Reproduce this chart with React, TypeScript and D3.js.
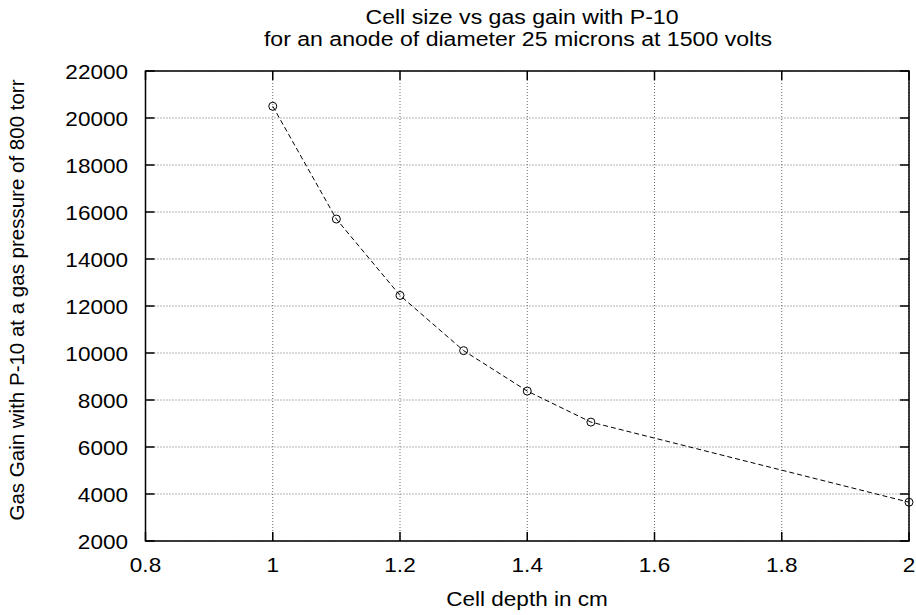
import React from "react";
import * as d3 from "d3";

const cellDepth = [1.0, 1.1, 1.2, 1.3, 1.4, 1.5, 2.0];
const gasGain = [20500, 15700, 12450, 10100, 8380, 7060, 3650];
const xTicks = [0.8, 1, 1.2, 1.4, 1.6, 1.8, 2];
const yTicks = [2000, 4000, 6000, 8000, 10000, 12000, 14000, 16000, 18000, 20000, 22000];
const titleLines = [
  "Cell size vs gas gain with P-10",
  "for an anode of diameter 25 microns at 1500 volts",
];
const xLabel = "Cell depth in cm";
const yLabel = "Gas Gain with P-10 at a gas pressure of 800 torr";

const W = 916;
const H = 615;
const L = 145.5;
const R = 909;
const T = 71;
const B = 541;
const FONT = "'Liberation Sans', Arial, Helvetica, sans-serif";
const FS = 20.5;
const SX = 1.1;

function HText({ x, y, anchor, size = FS, children }: { x: number; y: number; anchor: string; size?: number; children: React.ReactNode }) {
  return (
    <text
      transform={`translate(${x},${y}) scale(${SX},1)`}
      textAnchor={anchor}
      fontFamily={FONT}
      fontSize={size}
      fill="#000"
    >
      {children}
    </text>
  );
}

export default function App() {
  const x = d3.scaleLinear().domain([0.8, 2]).range([L, R]);
  const y = d3.scaleLinear().domain([2000, 22000]).range([B, T]);
  const pts: [number, number][] = cellDepth.map((d, i) => [x(d), y(gasGain[i])]);
  const line = d3.line().curve(d3.curveLinear)(pts) || "";
  const tick = 9;

  return (
    <svg
      width={W}
      height={H}
      style={{ position: "absolute", left: 0, top: 0, background: "#fff" }}
    >
      <rect x={0} y={0} width={W} height={H} fill="#fff" />
      {/* grid */}
      {xTicks.map((t) => (
        <line key={"gx" + t} x1={x(t)} x2={x(t)} y1={T} y2={B} stroke="#6a6a6a" strokeWidth={1} strokeDasharray="1,2" />
      ))}
      {yTicks.map((t) => (
        <line key={"gy" + t} x1={L} x2={R} y1={y(t)} y2={y(t)} stroke="#6a6a6a" strokeWidth={1} strokeDasharray="1,2" />
      ))}
      {/* ticks */}
      {xTicks.map((t) => (
        <g key={"tx" + t}>
          <line x1={x(t)} x2={x(t)} y1={B} y2={B - tick} stroke="#000" strokeWidth={1.5} />
          <line x1={x(t)} x2={x(t)} y1={T} y2={T + tick} stroke="#000" strokeWidth={1.5} />
          <HText x={x(t)} y={572} anchor="middle">{String(t)}</HText>
        </g>
      ))}
      {yTicks.map((t) => (
        <g key={"ty" + t}>
          <line x1={L} x2={L + tick} y1={y(t)} y2={y(t)} stroke="#000" strokeWidth={1.5} />
          <line x1={R} x2={R - tick} y1={y(t)} y2={y(t)} stroke="#000" strokeWidth={1.5} />
          <HText x={128} y={y(t) + 7.5} anchor="end">{String(t)}</HText>
        </g>
      ))}
      {/* frame */}
      <rect x={L} y={T} width={R - L} height={B - T} fill="none" stroke="#000" strokeWidth={1.5} />
      {/* data */}
      <path d={line} fill="none" stroke="#000" strokeWidth={1} strokeDasharray="5,3" />
      {pts.map((p, i) => (
        <circle key={"c" + i} cx={p[0]} cy={p[1]} r={4} fill="none" stroke="#000" strokeWidth={1} />
      ))}
      {/* titles */}
      <HText x={522} y={24} anchor="middle" size={21}>{titleLines[0]}</HText>
      <HText x={518} y={46} anchor="middle" size={21}>{titleLines[1]}</HText>
      <HText x={527} y={606} anchor="middle">{xLabel}</HText>
      <text
        transform={`translate(24,${300}) rotate(-90)`}
        textAnchor="middle"
        fontFamily={FONT}
        fontSize={FS}
        fill="#000"
      >
        {yLabel}
      </text>
    </svg>
  );
}
